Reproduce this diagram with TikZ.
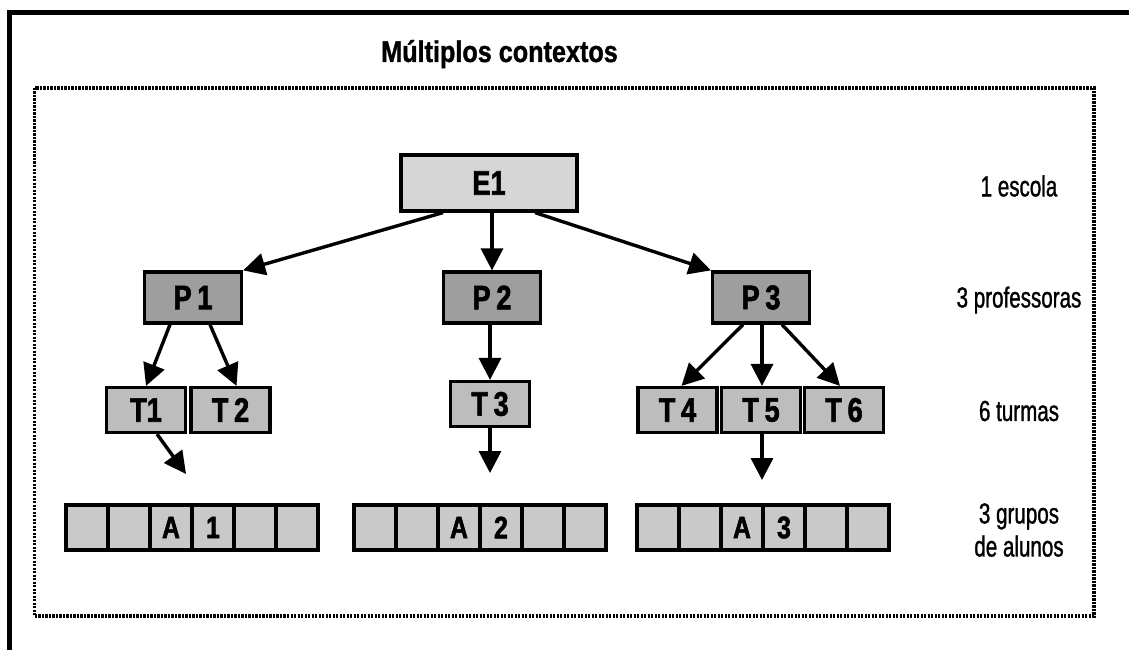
\documentclass[tikz,border=0pt]{standalone}
\usepackage{fontspec}
\setmainfont{Liberation Sans}
\newfontfamily\titlefont[FakeStretch=0.84,FakeBold=1.2]{Liberation Sans}
\newfontfamily\labelfont[FakeStretch=0.71,FakeBold=1.1]{Liberation Sans}
\newfontfamily\boxfont[FakeStretch=0.8,FakeBold=1.8]{Liberation Sans}
\usetikzlibrary{arrows.meta}

\definecolor{eonefill}{gray}{0.84}
\definecolor{pfill}{gray}{0.62}
\definecolor{tfill}{gray}{0.74}
\definecolor{cfill}{gray}{0.79}

\begin{document}
\begin{tikzpicture}[x=1pt,y=-1pt,
  boxbase/.style={draw=black, line width=3.2pt, inner sep=0pt,
    font=\boxfont\bfseries\fontsize{34}{34}\selectfont},
  ebox/.style={boxbase, fill=eonefill, minimum width=176pt, minimum height=56pt},
  pbox/.style={boxbase, fill=pfill, minimum width=97pt, minimum height=51pt},
  tbox/.style={boxbase, fill=tfill, minimum width=79pt, minimum height=45pt},
  cell/.style={boxbase, fill=cfill, minimum width=42pt, minimum height=45pt},
  celltext/.style={inner sep=0pt, font=\boxfont\bfseries\fontsize{31}{31}\selectfont},
  arr/.style={line width=3.4pt, -{Triangle[length=22pt,width=22pt]}},
  levellabel/.style={font=\labelfont\fontsize{29}{33}\selectfont, align=center, inner sep=0pt},
  frameline/.style={line width=4.5pt},
  dotframe/.style={line width=3.4pt, dash pattern=on 2.2pt off 1.3pt}
]
\useasboundingbox (0,0) rectangle (1129,650);

% outer frame (top and left edges only)
\draw[frameline] (9.5,650) -- (9.5,12.5) -- (1129,12.5);

% title
\node[anchor=base west, inner sep=0pt, font=\titlefont\bfseries\fontsize{30}{30}\selectfont]
  (title) at (381,62) {Múltiplos contextos};

% dotted frame
\draw[dotframe] (34.5,88) rectangle (1094,616);

% school
\node[ebox] (E1) at (489,183) {E1};

% teachers
\node[pbox] (P1) at (193,297.5) {P\,1};
\node[pbox] (P2) at (492,297.5) {P\,2};
\node[pbox] (P3) at (761,297.5) {P\,3};

% classes
\node[tbox] (T1) at (146,410) {T1};
\node[tbox] (T2) at (230.5,410) {T\,2};
\node[tbox] (T3) at (490,404) {T\,3};
\node[tbox] (T4) at (677.5,410) {T\,4};
\node[tbox] (T5) at (761,410) {T\,5};
\node[tbox] (T6) at (844,410) {T\,6};

% groups of pupils
\foreach \g/\gx in {1/192,2/480,3/763}{
  \foreach \i in {1,...,6}{
    \node[cell] (g\g c\i) at ({\gx+(\i-3.5)*42},527.5) {};
  }
  \node[celltext] at (g\g c3) {A};
  \node[celltext] at (g\g c4) {\g};
}

% loose arrow ends above the groups
\coordinate (g1in) at (186,474);
\coordinate (g2in) at (490,473);
\coordinate (g3in) at (762,480);

% connectors
\draw[arr] ([xshift=-46pt]E1.south) -- (P1.north east);
\draw[arr] ([xshift=3pt]E1.south) -- (P2.north);
\draw[arr] ([xshift=46pt]E1.south) -- (P3.north west);

\draw[arr] ([xshift=-23pt]P1.south) -- (T1.north);
\draw[arr] ([xshift=17pt]P1.south) -- ([xshift=6pt]T2.north);
\draw[arr] ([xshift=-2pt]P2.south) -- (T3.north);
\draw[arr] ([xshift=-18pt]P3.south) -- ([xshift=4pt]T4.north);
\draw[arr] ([xshift=1pt]P3.south) -- ([xshift=1pt]T5.north);
\draw[arr] ([xshift=21pt]P3.south) -- ([xshift=-4pt]T6.north);

\draw[arr] ([xshift=11pt]T1.south) -- (g1in);
\draw[arr] (T3.south) -- (g2in);
\draw[arr] ([xshift=1pt]T5.south) -- (g3in);

% level labels
\node[levellabel] (L1) at (1019,186) {1 escola};
\node[levellabel] (L2) at (1019,300) {3 professoras};
\node[levellabel] (L3) at (1019,411) {6 turmas};
\node[levellabel] (L4) at (1019,530) {3 grupos\\de alunos};
\end{tikzpicture}
\end{document}
